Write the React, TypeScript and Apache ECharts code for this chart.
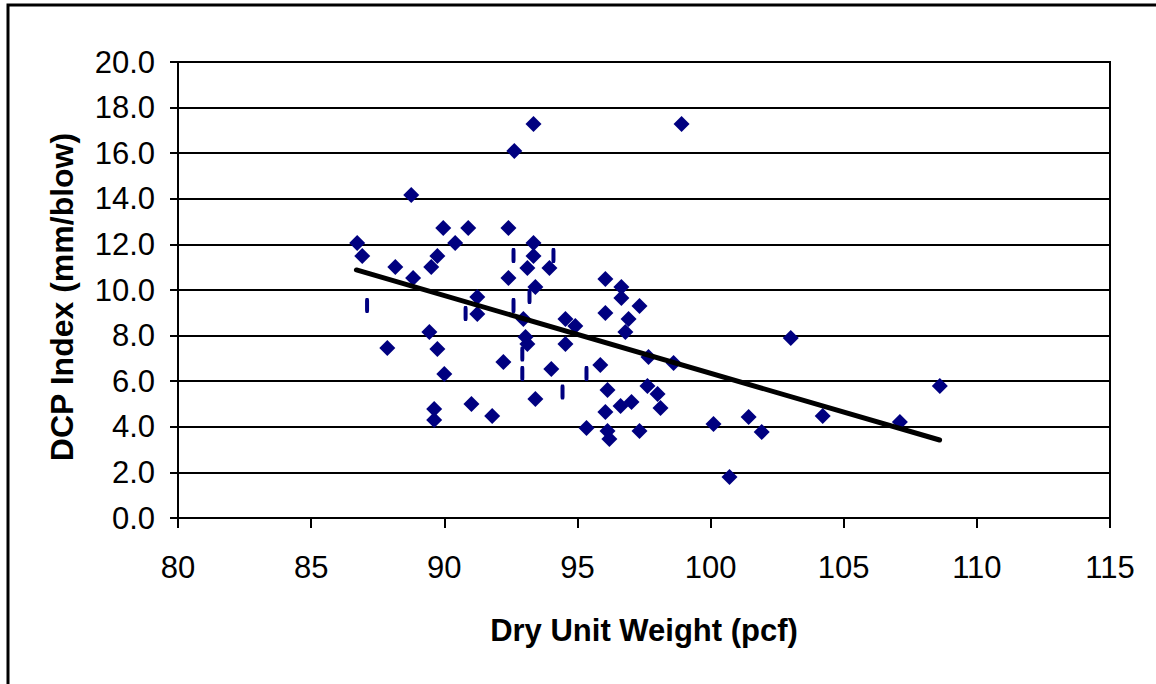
import React, { useEffect, useRef } from "react";
import * as echarts from "echarts";

// Diamond markers: dry unit weight (pcf) and DCP index (mm/blow)
const dryUnitWeight = [
  86.73, 86.92, 87.86, 88.16, 88.76, 88.83, 89.44, 89.51, 89.62, 89.62,
  89.74, 89.74, 89.96, 90.0, 90.41, 90.9, 91.02, 91.24, 91.24, 91.8,
  92.22, 92.41, 92.41, 92.63, 92.97, 93.05, 93.12, 93.12, 93.35, 93.35,
  93.35, 93.42, 93.42, 93.95, 94.02, 94.55, 94.55, 94.92, 95.34, 95.86,
  96.05, 96.05, 96.05, 96.13, 96.13, 96.2, 96.65, 96.65, 96.62, 96.8,
  96.92, 97.03, 97.33, 97.33, 97.67, 97.63, 98.01, 98.12, 98.61, 98.91,
  100.11, 100.71, 101.43, 101.92, 103.01, 104.21, 107.11, 108.61,
];
const dcpIndex = [
  12.06, 11.49, 7.46, 11.01, 14.17, 10.53, 8.16, 11.01, 4.78, 4.3,
  7.41, 11.49, 12.72, 6.32, 12.06, 12.72, 5.0, 9.69, 8.95, 4.47,
  6.84, 12.72, 10.53, 16.1, 8.73, 7.94, 7.63, 10.96, 12.06, 11.49,
  17.28, 10.13, 5.22, 10.96, 6.54, 8.73, 7.63, 8.42, 3.95, 6.71,
  10.48, 8.99, 4.65, 5.61, 3.82, 3.46, 10.13, 9.65, 4.91, 8.16,
  8.73, 5.09, 9.3, 3.82, 7.06, 5.79, 5.44, 4.82, 6.8, 17.28,
  4.12, 1.8, 4.43, 3.77, 7.89, 4.47, 4.21, 5.79,
];

// Thin vertical dash marks
const dashX = [87.1, 90.8, 92.6, 92.6, 94.1, 93.2, 92.93, 92.93, 95.34, 94.44];
const dashY = [9.32, 8.97, 11.51, 9.32, 11.51, 9.71, 7.19, 6.34, 6.34, 5.53];

// Linear trend line end points
const trendX = [86.7, 108.6];
const trendY = [10.88, 3.42];

// Axis ticks
const xMin = 80;
const xMax = 115;
const xStep = 5;
const yMin = 0;
const yMax = 20;
const yStep = 2;

const FONT = "'Liberation Sans', Arial, sans-serif";

export default function App() {
  const ref = useRef<HTMLDivElement>(null);

  useEffect(() => {
    if (!ref.current) return;
    const chart = echarts.init(ref.current, null, { renderer: "svg" });
    const diamonds = dryUnitWeight.map((x, i) => [x, dcpIndex[i]]);
    const dashes = dashX.map((x, i) => [x, dashY[i]]);
    const trend = trendX.map((x, i) => [x, trendY[i]]);

    chart.setOption({
      animation: false,
      backgroundColor: "#ffffff",
      graphic: [
        {
          type: "rect",
          shape: { x: 8, y: 5, width: 1400, height: 900 },
          style: { fill: "none", stroke: "#000", lineWidth: 3 },
          silent: true,
        },
      ],
      grid: {
        left: 178,
        top: 62,
        right: 46,
        bottom: 166,
        show: true,
        borderColor: "#000",
        borderWidth: 2,
        backgroundColor: "transparent",
      },
      xAxis: {
        type: "value",
        min: xMin,
        max: xMax,
        interval: xStep,
        name: "Dry Unit Weight (pcf)",
        nameLocation: "middle",
        nameGap: 97,
        nameTextStyle: {
          fontFamily: FONT,
          fontWeight: "bold",
          fontSize: 31,
          color: "#000",
          lineHeight: 31,
        },
        axisLine: { show: true, lineStyle: { color: "#000", width: 2 } },
        axisTick: { show: true, length: 10, lineStyle: { color: "#000", width: 2 } },
        axisLabel: {
          fontFamily: FONT,
          fontSize: 31,
          color: "#000",
          margin: 34,
          lineHeight: 31,
        },
        splitLine: { show: false },
      },
      yAxis: {
        type: "value",
        min: yMin,
        max: yMax,
        interval: yStep,
        name: "DCP Index (mm/blow)",
        nameLocation: "middle",
        nameGap: 100,
        nameTextStyle: {
          fontFamily: FONT,
          fontWeight: "bold",
          fontSize: 32,
          color: "#000",
          lineHeight: 32,
          padding: [0, 14, 0, 0],
        },
        axisLine: { show: true, lineStyle: { color: "#000", width: 2 } },
        axisTick: { show: true, length: 8, lineStyle: { color: "#000", width: 2 } },
        axisLabel: {
          fontFamily: FONT,
          fontSize: 31,
          color: "#000",
          margin: 23,
          formatter: (v: number) => v.toFixed(1),
        },
        splitLine: { show: true, lineStyle: { color: "#000", width: 2 } },
      },
      series: [
        {
          type: "scatter",
          data: diamonds,
          symbol: "diamond",
          symbolSize: [16, 16],
          itemStyle: { color: "#000080", opacity: 1 },
          z: 3,
        },
        {
          type: "scatter",
          data: dashes,
          symbol: "roundRect",
          symbolSize: [4, 15],
          itemStyle: { color: "#000080", opacity: 1 },
          z: 3,
        },
        {
          type: "line",
          data: trend,
          symbol: "none",
          lineStyle: { color: "#000", width: 5, cap: "round" },
          z: 4,
        },
      ],
    });

    return () => chart.dispose();
  }, []);

  return (
    <div
      ref={ref}
      style={{ position: "fixed", left: 0, top: 0, width: 1156, height: 684 }}
    />
  );
}
